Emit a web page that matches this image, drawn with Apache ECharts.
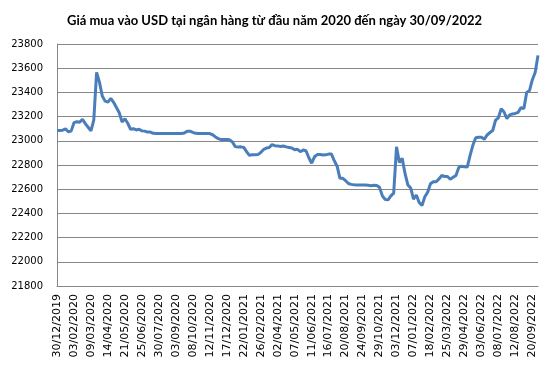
<!DOCTYPE html>
<html>
<head>
<meta charset="utf-8">
<script src="https://cdn.jsdelivr.net/npm/echarts@6/dist/echarts.min.js"></script>
<style>html,body{margin:0;padding:0;background:#fff}#c{width:555px;height:368px}</style>
</head>
<body>
<div id="c"></div>
<script>
const titleText = 'Giá mua vào USD tại ngân hàng từ đầu năm 2020 đến ngày 30/09/2022';
const tickLabels = ['30/12/2019','03/02/2020','09/03/2020','14/04/2020','21/05/2020','25/06/2020','30/07/2020','03/09/2020','08/10/2020','12/11/2020','17/12/2020','22/01/2021','26/02/2021','02/04/2021','07/05/2021','11/06/2021','16/07/2021','20/08/2021','24/09/2021','29/10/2021','03/12/2021','07/01/2022','18/02/2022','25/03/2022','29/04/2022','03/06/2022','08/07/2022','12/08/2022','20/09/2022'];
const pointsPerTick = 6;
const buyPrice = [
23085,23085,23088,23098,23075,23080,23150,23158,23153,23178,
23142,23112,23082,23170,23566,23485,23370,23328,23320,23350,
23318,23275,23232,23155,23182,23145,23095,23100,23090,23095,
23082,23080,23072,23072,23062,23060,23060,23060,23060,23060,
23060,23060,23060,23060,23060,23065,23078,23080,23070,23062,
23060,23060,23060,23060,23060,23050,23032,23018,23010,23010,
23010,23008,22990,22952,22948,22950,22945,22910,22880,22884,
22885,22886,22903,22928,22940,22945,22968,22960,22958,22953,
22957,22950,22945,22940,22926,22930,22910,22924,22918,22860,
22815,22868,22886,22886,22882,22884,22890,22890,22835,22790,
22690,22690,22670,22647,22640,22636,22635,22635,22635,22635,
22632,22628,22632,22630,22615,22545,22515,22512,22545,22568,
22950,22820,22855,22730,22635,22610,22518,22552,22490,22465,
22538,22575,22645,22662,22662,22685,22713,22705,22705,22682,
22698,22714,22780,22790,22786,22783,22880,22965,23025,23030,
23030,23012,23048,23068,23085,23170,23190,23265,23238,23183,
23214,23222,23226,23235,23275,23265,23400,23415,23505,23565,
23706
];
const categories = buyPrice.map((v, i) => (i % pointsPerTick === 0 && tickLabels[i / pointsPerTick]) ? tickLabels[i / pointsPerTick] : '');

const chart = echarts.init(document.getElementById('c'), null, {renderer: 'canvas'});
chart.setOption({
  animation: false,
  backgroundColor: '#ffffff',
  title: {
    text: titleText,
    left: 62, top: 9,
    textStyle: {fontFamily: 'Lato', fontSize: 13, fontWeight: 'bold', color: '#000'}
  },
  grid: {left: 57, right: 17, top: 44, bottom: 82, containLabel: false},
  xAxis: {
    type: 'category',
    data: categories,
    boundaryGap: false,
    axisLine: {lineStyle: {color: '#868686', width: 1}},
    axisTick: {show: false},
    axisLabel: {rotate: 90, interval: pointsPerTick - 1, margin: 8, fontFamily: '"DejaVu Sans", Verdana, sans-serif', fontSize: 11, color: '#000'},
    splitLine: {show: false}
  },
  yAxis: {
    type: 'value',
    min: 21800, max: 23800, interval: 200,
    axisLine: {show: true, lineStyle: {color: '#868686', width: 1}},
    axisTick: {show: false},
    axisLabel: {margin: 14, fontFamily: '"DejaVu Sans", Verdana, sans-serif', fontSize: 10, color: '#000', formatter: v => String(v)},
    splitLine: {lineStyle: {color: '#868686', width: 1}}
  },
  series: [{
    type: 'line',
    data: buyPrice,
    showSymbol: false,
    symbol: 'none',
    lineStyle: {color: '#4A7EBB', width: 3},
    itemStyle: {color: '#4A7EBB'}
  }]
});
</script>
</body>
</html>
